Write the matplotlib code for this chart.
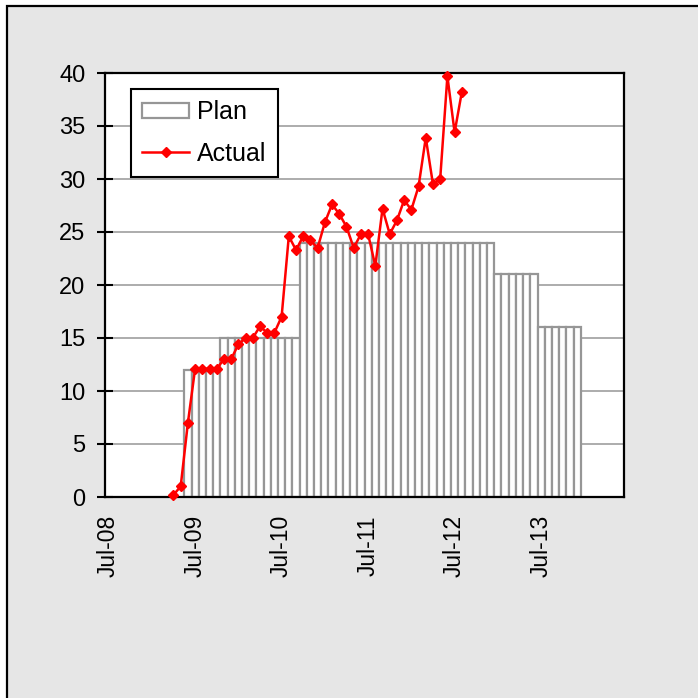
import matplotlib
matplotlib.use('Agg')
import matplotlib.pyplot as plt
import numpy as np
from matplotlib.patches import Rectangle

plt.rcParams['font.family'] = ['Liberation Sans', 'DejaVu Sans']

# monthly categories, Jul-08 .. Jun-14 (index 0 = Jul-08)
n_months = 72
tick_pos = [0, 12, 24, 36, 48, 60]
tick_labels = ['Jul-08', 'Jul-09', 'Jul-10', 'Jul-11', 'Jul-12', 'Jul-13']

# plan: run lengths starting Jun-09 (index 11)
plan_start = 11
plan_levels = [12, 15, 24, 21, 16]
plan_runs = [5, 11, 27, 6, 6]

# actual: monthly values starting Apr-09 (index 9)
actual_start = 9
actual = [0.2, 1.0, 7.0, 12.1, 12.1, 12.1, 12.1, 13.0, 13.0, 14.4,
          15.0, 15.0, 16.1, 15.5, 15.5, 17.0, 24.6, 23.3, 24.6, 24.2,
          23.5, 25.9, 27.6, 26.7, 25.5, 23.5, 24.8, 24.8, 21.8, 27.2,
          24.8, 26.1, 28.0, 27.1, 29.3, 33.9, 29.5, 30.0, 39.7, 34.4,
          38.2]

plan_vals = np.repeat(plan_levels, plan_runs)
plan_x = plan_start + np.arange(len(plan_vals))
actual_x = actual_start + np.arange(len(actual))

W = 698
fig = plt.figure(figsize=(W / 100, W / 100), dpi=100)
fig.patch.set_facecolor('white')
fig.patches.append(Rectangle((7 / W, -0.1), 1.2, 1 - 6 / W + 0.1,
                             transform=fig.transFigure, facecolor='#e6e6e6',
                             edgecolor='black', lw=1.6, zorder=-10))

ax = fig.add_axes([105 / W, (W - 497) / W, 519 / W, 424 / W])
ax.set_facecolor('white')

bars = ax.bar(plan_x, plan_vals, width=1.0, color='white',
              edgecolor='#969696', lw=1.6, label='Plan', zorder=2)
line, = ax.plot(actual_x, actual, color='red', marker='D', ms=5.4,
                lw=1.8, label='Actual', zorder=3, clip_on=False)

ax.set_xlim(-0.5, n_months - 0.5)
ax.set_ylim(0, 40)
ax.set_yticks(np.arange(0, 41, 5))
ax.set_xticks(tick_pos)
ax.set_xticklabels(tick_labels, rotation=90)

ax.grid(axis='y', color='#a6a6a6', lw=1.3)
ax.set_axisbelow(True)

for s in ax.spines.values():
    s.set_linewidth(1.6)
    s.set_color('black')

ax.tick_params(axis='y', direction='inout', length=12, width=1.5,
               pad=8, labelsize=17)
ax.tick_params(axis='x', length=0, pad=13, labelsize=16.5)

leg = ax.legend([bars, line], ['Plan', 'Actual'], loc='upper left',
                bbox_to_anchor=(0.0495, 0.962), borderaxespad=0,
                fontsize=18, frameon=True, fancybox=False,
                edgecolor='black', framealpha=1, handlelength=1.9,
                handleheight=0.6, labelspacing=0.7, handletextpad=0.3,
                borderpad=0.45)
leg.get_frame().set_linewidth(1.5)

fig.savefig('out.png', dpi=100)
